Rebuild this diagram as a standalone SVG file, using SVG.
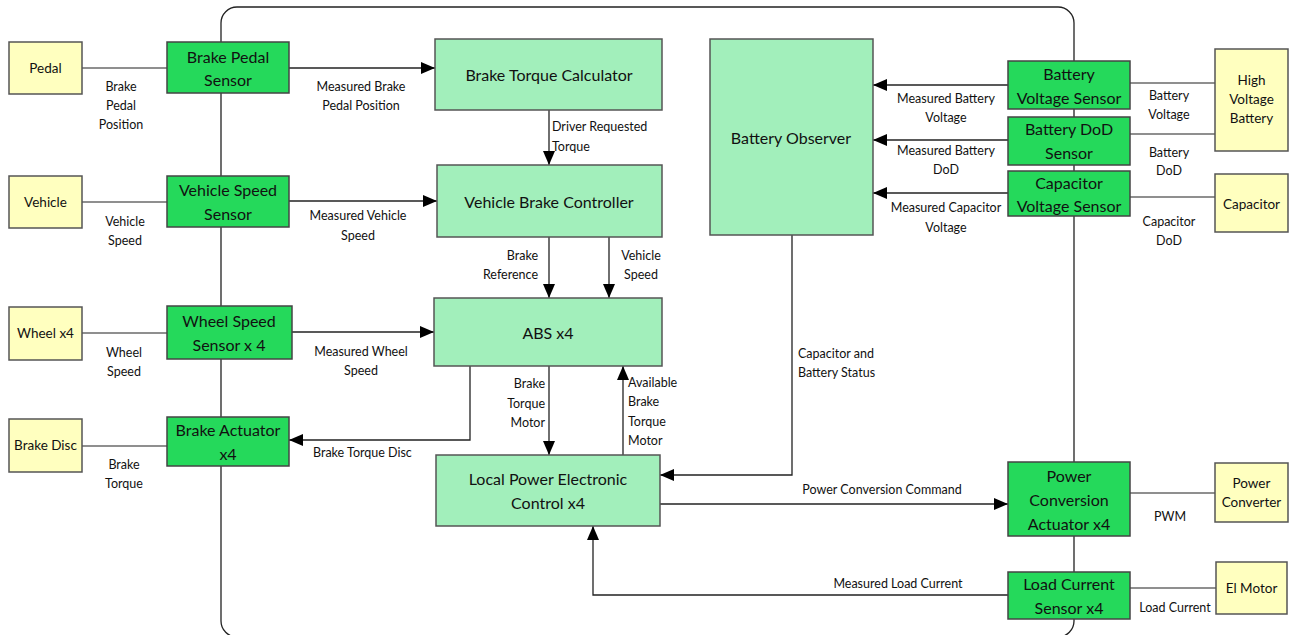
<svg xmlns="http://www.w3.org/2000/svg" width="1294" height="635" viewBox="0 0 1294 635">
<style>
text{font-family:Lato,"Liberation Sans",sans-serif;fill:#111;dominant-baseline:central}
.n{font-size:16px;text-anchor:middle}
.y{font-size:13.5px;text-anchor:middle}
.l{font-size:12.5px}
.c{text-anchor:middle}
.e{text-anchor:end}
.ext{fill:#FFFFBF;stroke:#555;stroke-width:1.5}
.sen{fill:#25D95B;stroke:#444;stroke-width:1.5}
.blk{fill:#A2EFBB;stroke:#555;stroke-width:1.5}
.w{fill:none;stroke:#6a6a6a;stroke-width:1.5}
.a{fill:none;stroke:#222;stroke-width:1.3;marker-end:url(#ah)}
</style>
<defs>
<marker id="ah" markerUnits="userSpaceOnUse" markerWidth="14" markerHeight="12" refX="14" refY="6" orient="auto"><path d="M0,0 L14,6 L0,12 Z" fill="#000"/></marker>
</defs>
<rect x="221" y="7" width="853" height="630" rx="16" fill="none" stroke="#222" stroke-width="1.3"/>
<g id="connectors">
<path class="w" d="M82,68 H167"/>
<path class="w" d="M82,202 H167"/>
<path class="w" d="M82,333 H167"/>
<path class="w" d="M82,446 H167"/>
<path class="a" d="M289,68 H435"/>
<path class="a" d="M289,201 H437"/>
<path class="a" d="M292,332 H434"/>
<path class="a" d="M470,366 V440 H289"/>
<path class="a" d="M549,110 V165"/>
<path class="a" d="M549,237 V298"/>
<path class="a" d="M609,237 V298"/>
<path class="a" d="M549,366 V455"/>
<path class="a" d="M623,455 V366"/>
<path class="a" d="M792,235 V475 H660"/>
<path class="a" d="M1008,85 H873"/>
<path class="a" d="M1008,140 H873"/>
<path class="a" d="M1008,193 H873"/>
<path class="w" d="M1130,83 H1215"/>
<path class="w" d="M1130,134 H1215"/>
<path class="w" d="M1130,197 H1215"/>
<path class="a" d="M660,504 H1008"/>
<path class="a" d="M1008,595 H593 V526"/>
<path class="w" d="M1130,493 H1215"/>
<path class="w" d="M1130,588 H1216"/>
<text class="l c" x="121" y="86">Brake</text><text class="l c" x="121" y="105">Pedal</text><text class="l c" x="121" y="124">Position</text>
<text class="l c" x="125" y="221">Vehicle</text><text class="l c" x="125" y="240">Speed</text>
<text class="l c" x="124" y="352">Wheel</text><text class="l c" x="124" y="371">Speed</text>
<text class="l c" x="124" y="464">Brake</text><text class="l c" x="124" y="483">Torque</text>
<text class="l c" x="361" y="86">Measured Brake</text><text class="l c" x="361" y="105">Pedal Position</text>
<text class="l c" x="358" y="215">Measured Vehicle</text><text class="l c" x="358" y="235">Speed</text>
<text class="l c" x="361" y="351">Measured Wheel</text><text class="l c" x="361" y="370">Speed</text>
<text class="l" x="313" y="452">Brake Torque Disc</text>
<text class="l" x="552" y="126">Driver Requested</text><text class="l" x="552" y="146">Torque</text>
<text class="l e" x="538" y="255">Brake</text><text class="l e" x="538" y="274">Reference</text>
<text class="l c" x="641" y="255">Vehicle</text><text class="l c" x="641" y="274">Speed</text>
<text class="l e" x="545" y="383">Brake</text><text class="l e" x="545" y="403">Torque</text><text class="l e" x="545" y="422">Motor</text>
<text class="l" x="628" y="382">Available</text><text class="l" x="628" y="401">Brake</text><text class="l" x="628" y="421">Torque</text><text class="l" x="628" y="440">Motor</text>
<text class="l" x="798" y="353">Capacitor and</text><text class="l" x="798" y="372">Battery Status</text>
<text class="l c" x="946" y="98">Measured Battery</text><text class="l c" x="946" y="117">Voltage</text>
<text class="l c" x="946" y="150">Measured Battery</text><text class="l c" x="946" y="169">DoD</text>
<text class="l c" x="946" y="207">Measured Capacitor</text><text class="l c" x="946" y="227">Voltage</text>
<text class="l c" x="1169" y="95">Battery</text><text class="l c" x="1169" y="114">Voltage</text>
<text class="l c" x="1169" y="152">Battery</text><text class="l c" x="1169" y="170">DoD</text>
<text class="l c" x="1169" y="221">Capacitor</text><text class="l c" x="1169" y="240">DoD</text>
<text class="l c" x="882" y="489">Power Conversion Command</text>
<text class="l c" x="898" y="583">Measured Load Current</text>
<text class="l c" x="1170" y="516">PWM</text>
<text class="l c" x="1175" y="607">Load Current</text>
</g>
<g id="pedal"><rect class="ext" x="9" y="42" width="73" height="52"/><text class="y" x="45.5" y="68">Pedal</text></g>
<g id="vehicle"><rect class="ext" x="9" y="176" width="73" height="52"/><text class="y" x="45.5" y="202">Vehicle</text></g>
<g id="wheel"><rect class="ext" x="9" y="307" width="73" height="53"/><text class="y" x="45.5" y="333">Wheel x4</text></g>
<g id="brake-disc"><rect class="ext" x="9" y="419" width="73" height="53"/><text class="y" x="45.5" y="445">Brake Disc</text></g>
<g id="brake-pedal-sensor"><rect class="sen" x="167" y="42" width="122" height="51"/><text class="n" x="228" y="56">Brake Pedal</text><text class="n" x="228" y="79">Sensor</text></g>
<g id="vehicle-speed-sensor"><rect class="sen" x="167" y="176" width="122" height="51"/><text class="n" x="228" y="189">Vehicle Speed</text><text class="n" x="228" y="213">Sensor</text></g>
<g id="wheel-speed-sensor"><rect class="sen" x="167" y="306" width="125" height="53"/><text class="n" x="229" y="320">Wheel Speed</text><text class="n" x="229" y="344">Sensor x 4</text></g>
<g id="brake-actuator"><rect class="sen" x="167" y="417" width="122" height="49"/><text class="n" x="228" y="429">Brake Actuator</text><text class="n" x="228" y="453">x4</text></g>
<g id="brake-torque-calculator"><rect class="blk" x="435" y="39" width="227" height="71"/><text class="n" x="549" y="74">Brake Torque Calculator</text></g>
<g id="vehicle-brake-controller"><rect class="blk" x="437" y="165" width="225" height="72"/><text class="n" x="549" y="201">Vehicle Brake Controller</text></g>
<g id="abs"><rect class="blk" x="434" y="298" width="228" height="68"/><text class="n" x="548" y="332">ABS x4</text></g>
<g id="local-power-electronic-control"><rect class="blk" x="436" y="455" width="224" height="71"/><text class="n" x="548" y="478">Local Power Electronic</text><text class="n" x="548" y="502">Control x4</text></g>
<g id="battery-observer"><rect class="blk" x="710" y="39" width="163" height="196"/><text class="n" x="791" y="137">Battery Observer</text></g>
<g id="battery-voltage-sensor"><rect class="sen" x="1008" y="61" width="122" height="48"/><text class="n" x="1069" y="73">Battery</text><text class="n" x="1069" y="97">Voltage Sensor</text></g>
<g id="battery-dod-sensor"><rect class="sen" x="1008" y="117" width="122" height="48"/><text class="n" x="1069" y="128">Battery DoD</text><text class="n" x="1069" y="152">Sensor</text></g>
<g id="capacitor-voltage-sensor"><rect class="sen" x="1008" y="171" width="122" height="45"/><text class="n" x="1069" y="182">Capacitor</text><text class="n" x="1069" y="205">Voltage Sensor</text></g>
<g id="power-conversion-actuator"><rect class="sen" x="1008" y="462" width="122" height="74"/><text class="n" x="1069" y="475">Power</text><text class="n" x="1069" y="499">Conversion</text><text class="n" x="1069" y="523">Actuator x4</text></g>
<g id="load-current-sensor"><rect class="sen" x="1008" y="572" width="122" height="47"/><text class="n" x="1069" y="583">Load Current</text><text class="n" x="1069" y="607">Sensor x4</text></g>
<g id="high-voltage-battery"><rect class="ext" x="1215" y="49" width="73" height="102"/><text class="y" x="1251.5" y="80">High</text><text class="y" x="1251.5" y="99">Voltage</text><text class="y" x="1251.5" y="118">Battery</text></g>
<g id="capacitor"><rect class="ext" x="1215" y="174" width="73" height="58"/><text class="y" x="1251.5" y="204">Capacitor</text></g>
<g id="power-converter"><rect class="ext" x="1215" y="463" width="73" height="59"/><text class="y" x="1251.5" y="483">Power</text><text class="y" x="1251.5" y="502">Converter</text></g>
<g id="el-motor"><rect class="ext" x="1216" y="562" width="71" height="52"/><text class="y" x="1251.5" y="588">El Motor</text></g>
</svg>
